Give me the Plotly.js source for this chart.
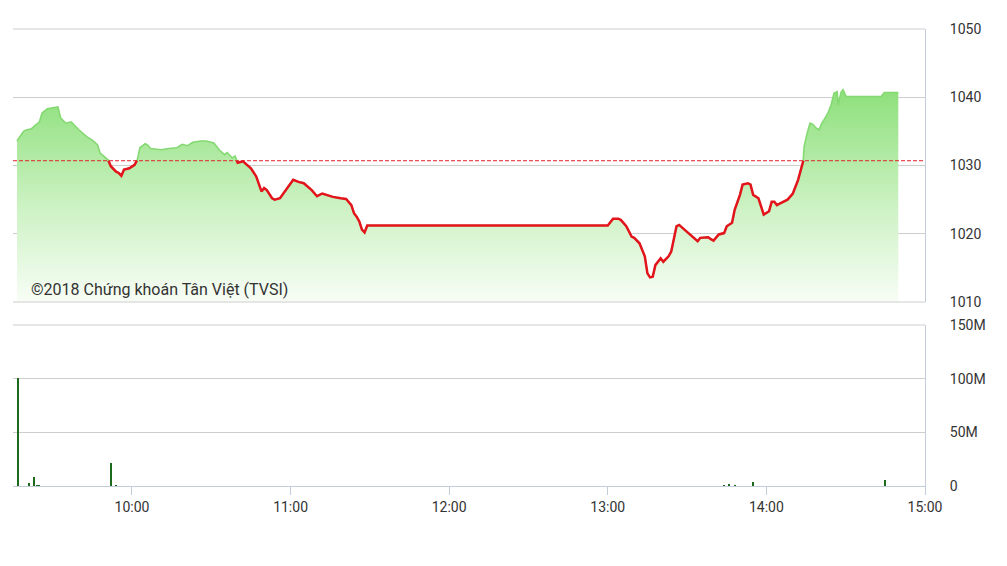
<!DOCTYPE html>
<html>
<head>
<meta charset="utf-8">
<script src="https://cdn.plot.ly/plotly-3.0.1.min.js"></script>
<style>
html,body{margin:0;padding:0;background:#fff;}
#chart{width:1007px;height:566px;}
</style>
</head>
<body>
<div id="chart"></div>
<script>
// ---- data ----
const REF_PRICE = 1030.7;

const priceTimes = [
"09:16:30","09:19:00","09:20:00","09:22:00","09:25:00","09:26:00","09:28:00","09:30:00","09:32:00","09:33:00",
"09:35:00","09:37:00","09:38:00","09:40:00","09:43:00","09:45:00","09:47:00","09:48:00","09:51:00","09:52:00",
"09:54:00","09:55:00","09:56:00","09:57:00","09:59:00","10:01:00","10:02:00","10:03:00","10:05:00","10:06:00",
"10:07:00","10:11:00","10:14:00","10:17:00","10:19:00","10:21:00","10:23:00","10:26:00","10:28:00","10:31:00",
"10:33:00","10:35:00","10:36:00","10:38:00","10:39:00","10:40:00","10:42:00","10:45:00","10:47:00","10:49:00",
"10:50:00","10:51:00","10:53:00","10:54:00","10:56:00","10:59:00","11:00:00","11:01:00","11:03:00","11:05:00",
"11:08:00","11:10:00","11:12:00","11:14:00","11:16:00","11:19:00","11:21:00","11:23:00","11:24:00","11:25:00",
"11:26:00","11:27:00","11:28:00","11:29:00","11:30:00",
"13:00:00","13:02:00","13:04:00","13:05:00","13:07:00","13:09:00","13:10:00","13:12:00","13:14:00","13:15:00",
"13:16:00","13:17:00","13:18:00","13:20:00","13:21:00","13:23:00","13:24:00","13:26:00","13:27:00","13:29:00",
"13:31:00","13:34:00","13:35:00","13:38:00","13:39:00","13:40:00","13:42:00","13:44:00","13:45:00","13:47:00",
"13:48:00","13:50:00","13:51:00","13:53:00","13:54:00","13:55:00","13:57:00","13:58:00","13:59:00","14:01:00",
"14:02:00","14:03:00","14:04:00","14:05:00","14:08:00","14:10:00","14:12:00","14:13:54","14:14:18","14:15:24",
"14:16:30","14:17:42","14:18:48","14:19:54","14:20:42","14:21:48","14:23:18","14:24:30","14:25:36","14:26:48",
"14:27:06","14:28:18","14:29:00","14:30:12","14:43:24","14:44:36","14:49:54"
];
const priceValues = [
1033.6,1035.0,1035.2,1035.4,1036.4,1037.7,1038.3,1038.4,1038.6,1037.0,
1036.2,1036.4,1036.0,1035.2,1034.2,1033.7,1033.0,1031.8,1030.8,1029.9,
1029.1,1028.9,1028.5,1029.4,1029.6,1030.1,1030.8,1032.6,1033.2,1033.0,
1032.5,1032.3,1032.5,1032.6,1033.1,1032.9,1033.4,1033.6,1033.6,1033.3,
1032.3,1031.6,1031.9,1031.1,1031.4,1030.4,1030.6,1029.6,1028.4,1026.2,
1026.7,1026.4,1025.2,1025.0,1025.2,1026.9,1027.4,1027.9,1027.6,1027.4,
1026.4,1025.5,1025.9,1025.6,1025.4,1025.2,1025.1,1024.2,1023.0,1022.5,
1021.8,1020.6,1020.2,1021.2,1021.2,
1021.2,1022.2,1022.2,1022.0,1021.1,1019.6,1019.4,1018.6,1016.7,1014.2,
1013.6,1013.7,1015.4,1016.4,1015.9,1016.7,1017.4,1021.1,1021.3,1020.6,
1019.9,1018.9,1019.4,1019.5,1019.2,1019.0,1019.9,1020.1,1021.1,1021.6,
1023.5,1025.7,1027.2,1027.4,1027.2,1025.7,1025.2,1024.0,1022.8,1023.3,
1024.7,1024.7,1024.2,1024.4,1025.0,1025.9,1027.9,1030.6,1032.8,1034.7,
1036.2,1036.0,1035.5,1035.2,1036.0,1036.7,1037.7,1038.9,1040.6,1040.8,
1038.9,1040.8,1041.1,1040.1,1040.1,1040.7,1040.7
];

const volumeTimes = [
"09:17","09:21","09:23","09:24","09:25","09:27","09:29","09:33","09:34","09:44",
"09:47","09:49","09:52","09:54","10:08","10:30","10:51","11:15","11:25","13:00",
"13:03","13:08","13:12","13:15","13:18","13:21","13:25","13:30","13:35","13:41",
"13:44","13:46","13:48","13:50","13:55","14:02","14:05","14:13","14:19","14:23",
"14:28","14:45"
];
const volumeValues = [ // millions
101,2.5,8.7,1.0,1.0,0.4,0.3,0.3,0.3,0.3,
0.3,0.4,21,0.5,0.3,0.3,0.3,0.3,0.4,0.4,
0.3,0.3,0.3,0.4,0.3,0.3,0.3,0.3,0.3,0.4,
0.6,1.8,0.6,0.4,3.7,0.4,0.3,0.3,0.4,0.3,
0.3,5.5
];

const priceTickVals = [1010,1020,1030,1040,1050];
const volTickVals = [0,50,100,150];
const volTickText = ["0","50M","100M","150M"];
const timeTickVals = ["10:00","11:00","12:00","13:00","14:00","15:00"];
const timeRange = ["09:15","15:00"];
const copyrightText = "©2018 Chứng khoán Tân Việt (TVSI)";

// ---- helpers ----
function toMs(t){
  const p = t.split(":").map(Number);
  return Date.UTC(2018,0,1,p[0],p[1],p[2]||0);
}
const px = priceTimes.map(toMs);
const vx = volumeTimes.map(toMs);

// red (below reference) segments with interpolated crossing points
const redX = [], redY = [];
for (let i=0;i<px.length;i++){
  const below = priceValues[i] < REF_PRICE;
  if (i>0){
    const prevBelow = priceValues[i-1] < REF_PRICE;
    if (prevBelow !== below){
      const f = (REF_PRICE - priceValues[i-1])/(priceValues[i]-priceValues[i-1]);
      redX.push(px[i-1] + f*(px[i]-px[i-1]));
      redY.push(REF_PRICE);
    }
  }
  if (below){ redX.push(px[i]); redY.push(priceValues[i]); }
  else { redX.push(px[i]); redY.push(null); }
}

const font = "Roboto, 'Liberation Sans', Arial, sans-serif";

const traces = [
  {
    type:"scatter", mode:"lines", x:px, y:priceValues, xaxis:"x", yaxis:"y",
    line:{color:"#84d972", width:1.6},
    fill:"tozeroy",
    fillgradient:{type:"vertical", start:1010, stop:1041,
      colorscale:[[0,"#f8fdf6"],[0.45,"#cdf2c4"],[1,"#8ee07c"]]},
    hoverinfo:"skip", showlegend:false
  },
  {
    type:"scatter", mode:"lines", x:redX, y:redY, xaxis:"x", yaxis:"y",
    line:{color:"#e3141c", width:2.5}, connectgaps:false,
    hoverinfo:"skip", showlegend:false
  },
  {
    type:"bar", x:vx, y:volumeValues, xaxis:"x2", yaxis:"y2",
    marker:{color:"#1c6a1c", line:{width:0}}, width:45000,
    hoverinfo:"skip", showlegend:false
  }
];

const gridC = "#cdcdcd";
const edgeC = "#c3ccd9";
const tickFont = {family:font, size:14, color:"#333"};
const xr = timeRange.map(toMs);

const layout = {
  width:1007, height:566,
  margin:{l:13, r:82, t:29, b:80, pad:0},
  paper_bgcolor:"#fff", plot_bgcolor:"#fff",
  bargap:0,
  xaxis:{domain:[0,1], anchor:"y", type:"date", range:xr, showticklabels:false,
    showgrid:false, zeroline:false, showline:false, ticks:""},
  xaxis2:{domain:[0,1], anchor:"y2", type:"date", range:xr,
    tickvals:timeTickVals.map(toMs), tickformat:"%H:%M",
    ticks:"outside", ticklen:8, tickcolor:edgeC, tickwidth:1,
    showgrid:false, zeroline:false, showline:true, linecolor:edgeC, linewidth:1,
    tickfont:tickFont},
  yaxis:{domain:[0.4026,1], anchor:"x", side:"right", range:[1010,1050],
    tickvals:priceTickVals, showgrid:true, gridcolor:gridC, gridwidth:1,
    zeroline:false, showline:true, linecolor:edgeC, ticks:"",
    ticklabelstandoff:21, tickfont:tickFont},
  yaxis2:{domain:[0,0.3523], anchor:"x2", side:"right", range:[0,150],
    tickvals:volTickVals, ticktext:volTickText, showgrid:true, gridcolor:gridC,
    zeroline:false, showline:true, linecolor:edgeC, ticks:"",
    ticklabelstandoff:21, tickfont:tickFont},
  shapes:[
    {type:"line", xref:"x domain", x0:0, x1:1, yref:"y", y0:REF_PRICE, y1:REF_PRICE,
     line:{color:"#e0232b", width:1, dash:"4px,2px"}, layer:"above"},
    {type:"line", xref:"x domain", x0:0, x1:1, yref:"y domain", y0:1, y1:1,
     line:{color:gridC, width:1}},
    {type:"line", xref:"x domain", x0:0, x1:1, yref:"y domain", y0:0, y1:0,
     line:{color:gridC, width:1}},
    {type:"line", xref:"x2 domain", x0:0, x1:1, yref:"y2 domain", y0:1, y1:1,
     line:{color:gridC, width:1}}
  ],
  annotations:[
    {text:copyrightText, xref:"paper", yref:"paper", x:0.0175, y:0.4289,
     xanchor:"left", yanchor:"middle", showarrow:false,
     font:{family:font, size:16, color:"#333"}}
  ]
};

Plotly.newPlot("chart", traces, layout, {staticPlot:true, displayModeBar:false});
</script>
</body>
</html>
